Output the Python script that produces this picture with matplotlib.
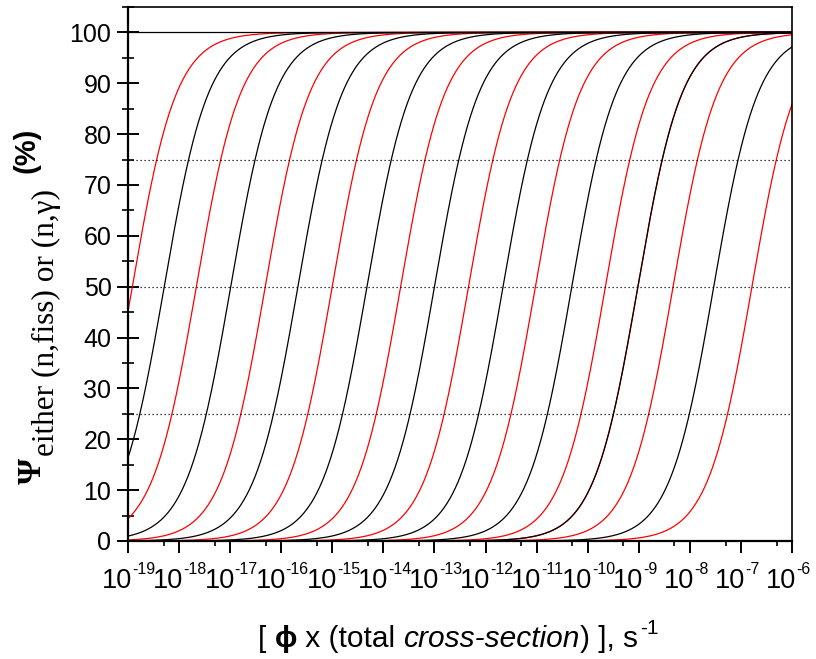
import numpy as np
import matplotlib
matplotlib.use("Agg")
import matplotlib.pyplot as plt
from matplotlib.ticker import FixedLocator, NullFormatter
import matplotlib.transforms as mtransforms

# ---- data (log10 of phi*sigma at which Psi = 50 %) ----
red_log_x50 = [-18.916, -17.662, -16.313, -15.002, -13.662, -12.333,
               -11.024, -9.653, -9.018, -8.328, -6.784]
black_log_x50 = [-18.291, -16.989, -15.674, -14.322, -13.000, -11.657,
                 -10.311, -9.018, -7.532]
ref_levels = [25, 50, 75]
top_level = 100
decade_exps = list(range(-19, -5))
y_major = list(range(0, 101, 10))
y_minor = list(range(5, 106, 10))

W, H = 816, 659
fig = plt.figure(figsize=(W / 100, H / 100), dpi=100)
ax = fig.add_axes([128 / W, 118 / H, 664 / W, 534 / H])

x = np.logspace(-19, -6, 1200)
for lx in red_log_x50:
    ax.plot(x, 100 * x / (x + 10.0 ** lx), color="#ff0000", lw=0.9)
for lx in black_log_x50:
    ax.plot(x, 100 * x / (x + 10.0 ** lx), color="black", lw=0.9)

for lv in ref_levels:
    ax.axhline(lv, color="black", lw=0.9, ls=(0, (1, 2.2)))
ax.axhline(top_level, color="black", lw=0.9)

ax.set_xscale("log")
ax.set_xlim(1e-19, 1e-6)
ax.set_ylim(0, 105)

ax.xaxis.set_major_locator(FixedLocator([10.0 ** e for e in decade_exps]))
ax.xaxis.set_minor_locator(FixedLocator([5 * 10.0 ** e for e in decade_exps[:-1]]))
ax.xaxis.set_major_formatter(NullFormatter())
ax.xaxis.set_minor_formatter(NullFormatter())
ax.tick_params(axis="x", which="major", direction="out", length=8.4, width=1.4)
ax.tick_params(axis="x", which="minor", direction="out", length=3.6, width=1.2)

ax.yaxis.set_major_locator(FixedLocator(y_major))
ax.yaxis.set_minor_locator(FixedLocator(y_minor))
ax.tick_params(axis="y", which="major", direction="inout", length=15.8, width=1.4,
               labelsize=18, pad=4)
ax.tick_params(axis="y", which="minor", direction="inout", length=8.4, width=1.2)
for lab in ax.get_yticklabels():
    lab.set_fontfamily("Liberation Sans")

for s in ["left", "bottom"]:
    ax.spines[s].set_linewidth(1.6)
for s in ["right", "top"]:
    ax.spines[s].set_linewidth(1.2)

# x tick labels "10" with exponent
xt = ax.get_xaxis_transform()
for e in decade_exps:
    t1 = xt + mtransforms.ScaledTranslation(0.045, -0.47, fig.dpi_scale_trans)
    ax.text(10.0 ** e, 0, "10", transform=t1, ha="right", va="baseline",
            fontsize=19.5, family="Liberation Sans", clip_on=False)
    t2 = xt + mtransforms.ScaledTranslation(0.045, -0.335, fig.dpi_scale_trans)
    ax.text(10.0 ** e, 0, "-%d" % abs(e), transform=t2, ha="left", va="baseline",
            fontsize=11.5, family="Liberation Sans", clip_on=False)

# x label built from pieces
sans = ["Liberation Sans", "DejaVu Sans"]
prev = fig.text(258 / W, 6 / H, "[ ", fontsize=21.5, family=sans, va="bottom")
pieces = [("\u03d5", dict(fontweight="bold")),
          (" x (total ", {}),
          ("cross-section", dict(style="italic")),
          (") ], s", {})]
for s, kw in pieces:
    prev = ax.annotate(s, xy=(1, 0), xycoords=prev, va="bottom", ha="left",
                       fontsize=21.5, family=sans, annotation_clip=False, **kw)
ax.annotate("-1", xy=(1, 0), xycoords=prev, xytext=(1.5, 11), textcoords="offset points",
            va="bottom", ha="left", fontsize=15, family=sans, annotation_clip=False)

# y label built from pieces (rotated)
fig.text(41 / W, (H - 484) / H, "\u03a8", rotation=90, rotation_mode="anchor",
         ha="left", va="baseline", fontsize=24, fontweight="bold", family="Liberation Serif")
fig.text(54 / W, (H - 456) / H, "either (n,fiss) or (n,\u03b3)", rotation=90,
         rotation_mode="anchor", ha="left", va="baseline", fontsize=22.5,
         family="Liberation Serif")
fig.text(35 / W, (H - 173) / H, "(%)", rotation=90, rotation_mode="anchor",
         ha="left", va="baseline", fontsize=21, fontweight="bold", family="Liberation Sans")

fig.savefig("out.png", dpi=100)
